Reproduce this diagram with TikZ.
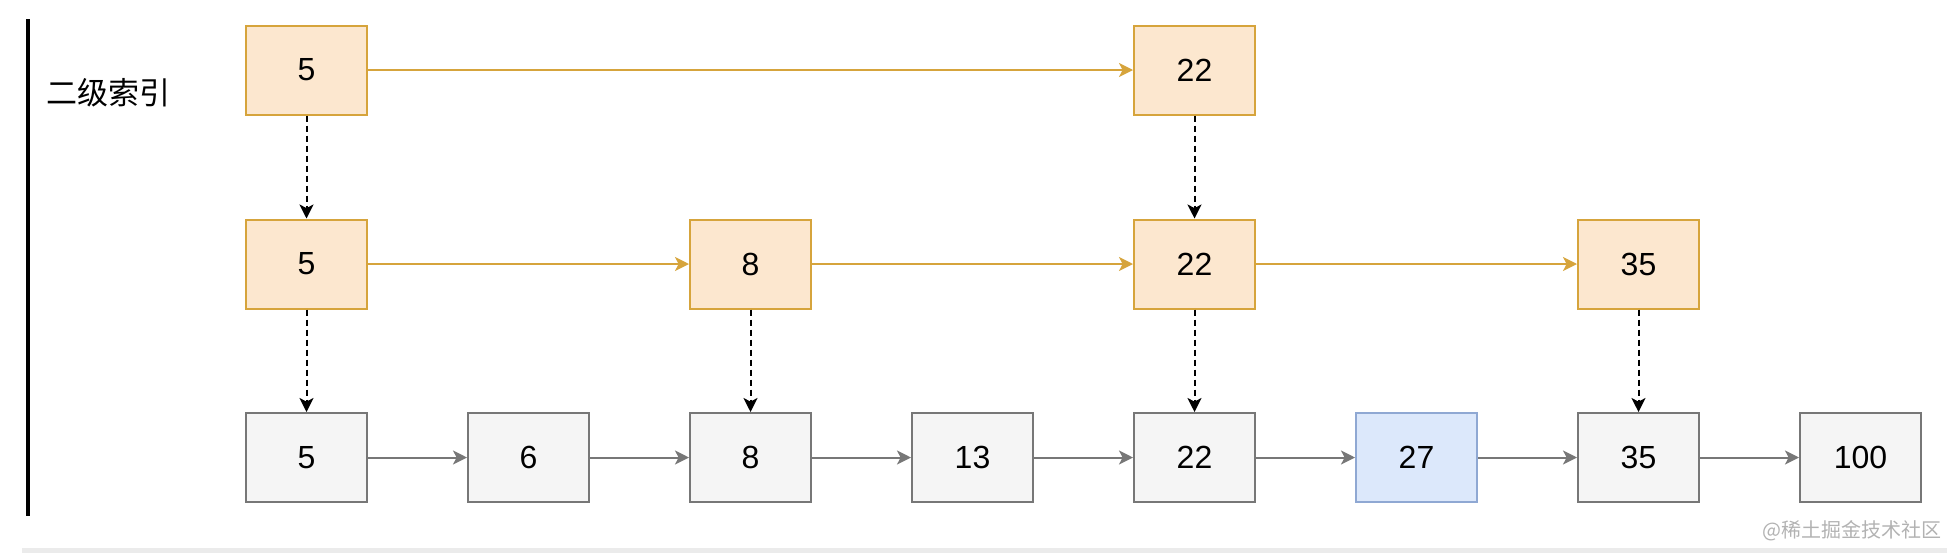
\documentclass[tikz,border=0pt]{standalone}
\usepackage{fontspec}
\setmainfont{Liberation Sans}
\newfontfamily\cjkfont{Noto Sans CJK SC}
\usetikzlibrary{arrows.meta}
\definecolor{idxfill}{HTML}{FCE7CF}
\definecolor{idxline}{HTML}{D6A43C}
\definecolor{leaffill}{HTML}{F5F5F5}
\definecolor{leafline}{HTML}{777777}
\definecolor{hitfill}{HTML}{DCE8FB}
\definecolor{hitline}{HTML}{8FA8D3}
\definecolor{bandgrey}{HTML}{EBEBEB}

\begin{document}
\begin{tikzpicture}[x=0.5pt,y=-0.5pt,>=Stealth,
  box/.style={draw,line width=1pt,minimum width=60.5pt,minimum height=44.5pt,
    inner sep=0pt,font=\fontsize{16}{18}\selectfont},
  idx/.style={box,fill=idxfill,draw=idxline},
  leaf/.style={box,fill=leaffill,draw=leafline},
  hit/.style={box,fill=hitfill,draw=hitline},
  idxlink/.style={line width=1pt,draw=idxline,-{Stealth[length=7pt,width=7pt,inset=1.8pt]}},
  leaflink/.style={line width=1pt,draw=leafline,-{Stealth[length=7pt,width=7pt,inset=1.8pt]}},
  down/.style={line width=1pt,dash pattern=on 3pt off 2pt,-{Stealth[length=7pt,width=7pt,inset=1.8pt]}}]
\useasboundingbox (0,0) rectangle (1947,553);
% ---------- frame ----------
\draw[line width=2pt] (28,19) -- (28,516);
\fill[bandgrey] (22,548) rectangle (1947,553);
\node (title) at (108.5,93) {\cjkfont\fontsize{15.5}{18}\selectfont 二级索引};
% ================= row 1 =================
\node[idx] (a1) at (306.5,70) {5};
\node[idx] (a5) at (1194.5,70) {22};
\draw[idxlink] (a1) -- (a5);
% ================= row 2 =================
\node[idx] (b1) at (306.5,264) {5};
\node[idx] (b3) at (750.5,264) {8};
\node[idx] (b5) at (1194.5,264) {22};
\node[idx] (b7) at (1638.5,264) {35};
\draw[idxlink] (b1) -- (b3);
\draw[idxlink] (b3) -- (b5);
\draw[idxlink] (b5) -- (b7);
\foreach \k in {1,5}{
  \draw[down] (a\k) -- (b\k);}
% ================= row 3 =================
\foreach \v [count=\k] in {5,6,8,13,22,27,35,100}{
  \ifnum\k=6
    \node[hit] (c\k) at (306.5+222*\k-222,457.5) {\v};
  \else
    \node[leaf] (c\k) at (306.5+222*\k-222,457.5) {\v};
  \fi}
\foreach \k [evaluate=\k as \n using int(\k+1)] in {1,...,7}{
  \draw[leaflink] (c\k) -- (c\n);}
\foreach \k in {1,3,5,7}{
  \draw[down] (b\k) -- (c\k);}
% ---------- watermark ----------
\node[anchor=east,inner sep=0pt,text=black!30,font=\cjkfont\fontsize{10}{12}\selectfont] (mark) at (1942,531) {@稀土掘金技术社区};
\end{tikzpicture}
\end{document}
